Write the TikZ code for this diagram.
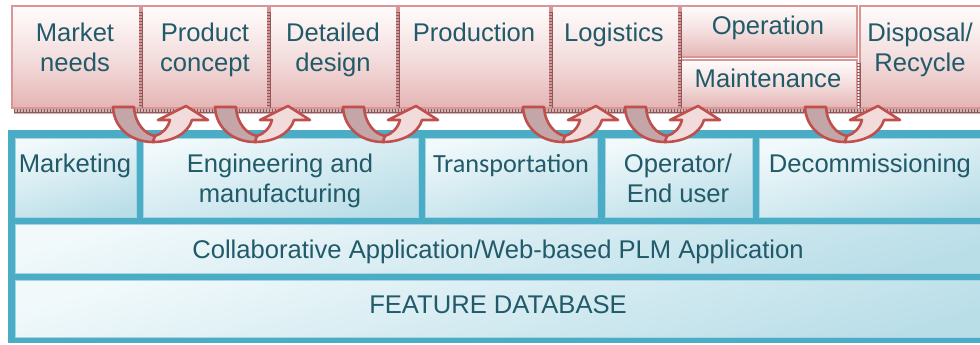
\documentclass[tikz,border=0pt]{standalone}
\usepackage{fontspec}
\setmainfont{Liberation Sans}
\newfontfamily\calib{Carlito}
\definecolor{txt}{HTML}{215A69}
\definecolor{pborder}{HTML}{D99694}
\definecolor{ptop}{HTML}{FFFCFC}
\definecolor{pmid}{HTML}{F4DEDE}
\definecolor{pbot}{HTML}{E4B5B4}
\definecolor{bframe}{HTML}{4BACC6}
\definecolor{btop}{HTML}{F1F9FB}
\definecolor{bbot}{HTML}{BADEE8}
\definecolor{bedge}{HTML}{A6D6E3}
\definecolor{ared}{HTML}{C0504D}
\definecolor{adark}{HTML}{C4A6A8}
\definecolor{alight}{HTML}{F2DCDB}
\definecolor{shad}{HTML}{8C5A5C}
\definecolor{shadfill}{HTML}{D3B0B0}
\tikzset{
  pinkbox/.style={draw=pborder, line width=2.4pt, top color=ptop, bottom color=pbot, middle color=pmid},
  bluebox/.style={draw=bedge, line width=0.8pt, top color=btop, bottom color=bbot, shading angle=15},
  lbl/.style={text=txt, font=\fontsize{25.6}{29.5}\selectfont, align=center, anchor=base, inner sep=0pt},
  arrowdark/.style={draw=ared, fill=adark, line width=2.6pt, line join=round},
  arrowlight/.style={draw=ared, fill=alight, line width=2.6pt, line join=round},
  tickline/.style={shad, line width=4pt, dash pattern=on 0.7pt off 2.3pt},
  thinline/.style={shad, line width=0.7pt}
}
\newcommand\uturnarrow[1]{%
  \begin{scope}[xshift=#1pt]
    \filldraw[arrowdark] (0,107) -- (21,107) .. controls (22,124) and (32,134) .. (42,136)
      -- (40,142) .. controls (18,142) and (1,128) .. (0,107) -- cycle;
    \filldraw[arrowlight] (42,136) .. controls (49,134) and (55,128) .. (57,120)
      -- (45,120) -- (73,106) -- (95,120) -- (79,120)
      .. controls (75,134) and (58,142) .. (40,142) -- cycle;
  \end{scope}}
\begin{document}
\begin{tikzpicture}[x=1pt,y=-1pt]
\useasboundingbox (0,0) rectangle (980,345);
\clip (0,0) rectangle (980,345);
\fill[white] (0,0) rectangle (980,345);

% shadow strip under the top row
\fill[shadfill] (14,108) rectangle (990,114);
\draw[tickline] (14,111) -- (990,111);
\draw[thinline] (14,112.5) -- (990,112.5);

% top row (life-cycle phases)
\path[pinkbox] (12,6) rectangle (140,108);
\path[pinkbox] (142,6) rectangle (268,108);
\path[pinkbox] (270,6) rectangle (397,108);
\path[pinkbox] (399,6) rectangle (550,108);
\path[pinkbox] (552,6) rectangle (679,108);
\path[pinkbox] (681,6) rectangle (857,57);
\path[pinkbox] (681,60) rectangle (857,108);
\path[pinkbox] (860,6) rectangle (995,108);

% shadow edges along left sides
\foreach \xx/\yy in {142/12, 270/12, 399/12, 552/12, 681/12, 860/63} {
  \draw[thinline] (\xx+0.5,\yy) -- (\xx+0.5,108);
  \draw[shad, line width=3pt, dash pattern=on 0.7pt off 2.3pt] (\xx-1.5,\yy) -- (\xx-1.5,108);
}

% two-line labels: base anchor is the baseline of the last line
\node[lbl] (mn) at (75,71) {Market\\needs};
\node[lbl] (pc) at (205,71) {Product\\concept};
\node[lbl] (dd) at (333,71) {Detailed\\design};
\node[lbl] (pr) at (474,42) {Production};
\node[lbl] (lg) at (614,42) {Logistics};
\node[lbl] (op) at (768,35) {Operation};
\node[lbl] (mt) at (768,88) {Maintenance};
\node[lbl] (dr) at (920,71) {Disposal/\\Recycle};

% lower frame
\fill[bframe] (8,130) rectangle (990,343);
\path[bluebox] (15,138) rectangle (136,217);
\path[bluebox] (143,138) rectangle (418,217);
\path[bluebox] (425,138) rectangle (597,217);
\path[bluebox] (605,138) rectangle (752,217);
\path[bluebox] (759,138) rectangle (995,217);
\path[bluebox] (15,224) rectangle (995,273);
\path[bluebox] (15,280) rectangle (995,337);

\node[lbl] (mk) at (75,172) {Marketing};
\node[lbl] (em) at (280,202) {Engineering and\\manufacturing};
\node[lbl, font=\calib\fontsize{26.2}{29.5}\selectfont] (tr) at (511,172) {Transportation};
\node[lbl] (ou) at (678,202) {Operator/\\End user};
\node[lbl] (dc) at (870,172) {Decommissioning};
\node[lbl] (ca) at (498,258) {Collaborative Application/Web-based PLM Application};
\node[lbl] (fd) at (498,313) {FEATURE DATABASE};

% U-turn arrows between phases
\foreach \a in {113,215,343,523,625,805} {\uturnarrow{\a}}
\end{tikzpicture}
\end{document}
